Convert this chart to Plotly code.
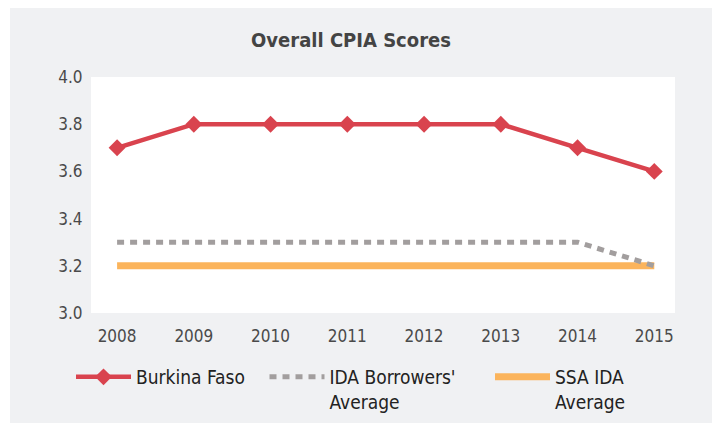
import plotly.graph_objects as go

years = [2008, 2009, 2010, 2011, 2012, 2013, 2014, 2015]
burkina = [3.7, 3.8, 3.8, 3.8, 3.8, 3.8, 3.7, 3.6]
ida_borrowers = [3.3, 3.3, 3.3, 3.3, 3.3, 3.3, 3.3, 3.2]
ssa_ida = [3.2, 3.2, 3.2, 3.2, 3.2, 3.2, 3.2, 3.2]
y_ticks = [3.0, 3.2, 3.4, 3.6, 3.8, 4.0]

FONT = "DejaVu Sans Condensed, Liberation Sans Narrow, Roboto, sans-serif"
W, H = 720, 423
L, R, T, B = 83, 53, 69, 118
pw = W - L - R
ph = H - T - B

fig = go.Figure()
fig.add_trace(go.Scatter(
    x=years, y=ssa_ida, name="SSA IDA<br>Average", mode="lines",
    line=dict(color="#fbb45c", width=7), legend="legend3"))
fig.add_trace(go.Scatter(
    x=years, y=ida_borrowers, name="IDA Borrowers'<br>Average", mode="lines",
    line=dict(color="#a29e9e", width=5, dash="7px,6px"), legend="legend2"))
fig.add_trace(go.Scatter(
    x=years, y=burkina, name="Burkina Faso", mode="lines+markers",
    line=dict(color="#d9434e", width=4.5),
    marker=dict(symbol="diamond", size=13, color="#d9434e"), legend="legend"))

shapes = [
    dict(type="rect", xref="paper", yref="paper",
         x0=-L / pw, x1=(2 - L) / pw, y0=-B / ph, y1=1 + T / ph,
         fillcolor="white", line=dict(width=0), layer="below"),
]

leg_y = -(350 - (T + ph)) / ph
def legend_at(xpx):
    return dict(orientation="h", x=(xpx - L) / pw, xanchor="left", y=leg_y,
                yanchor="top", bgcolor="rgba(0,0,0,0)", itemwidth=55,
                valign="top", font=dict(family=FONT, size=19, color="#222222"))

fig.update_layout(
    width=W, height=H,
    margin=dict(l=L, r=R, t=T, b=B, autoexpand=False),
    paper_bgcolor="#f0f1f3",
    plot_bgcolor="white",
    font=dict(family=FONT, size=17, color="#4a4a4a"),
    title=dict(text="<b>Overall CPIA Scores</b>", x=343 / W, xanchor="center",
               y=1 - 32 / H, yanchor="middle",
               font=dict(family=FONT, size=20, color="#444444")),
    xaxis=dict(range=[2007.66, 2015.27], tickmode="array", tickvals=years,
               ticktext=[str(y) for y in years], showgrid=False, zeroline=False,
               showline=False, ticks="outside", ticklen=8,
               tickcolor="rgba(0,0,0,0)", fixedrange=True),
    yaxis=dict(range=[3.0, 4.0], tickmode="array", tickvals=y_ticks,
               ticktext=[f"{v:.1f}" for v in y_ticks], showgrid=False,
               zeroline=False, showline=False, ticks="outside", ticklen=4,
               tickcolor="rgba(0,0,0,0)"),
    legend=legend_at(63),
    legend2=legend_at(256.5),
    legend3=legend_at(482),
    shapes=shapes,
    showlegend=True,
)

fig.write_html("out.html")
